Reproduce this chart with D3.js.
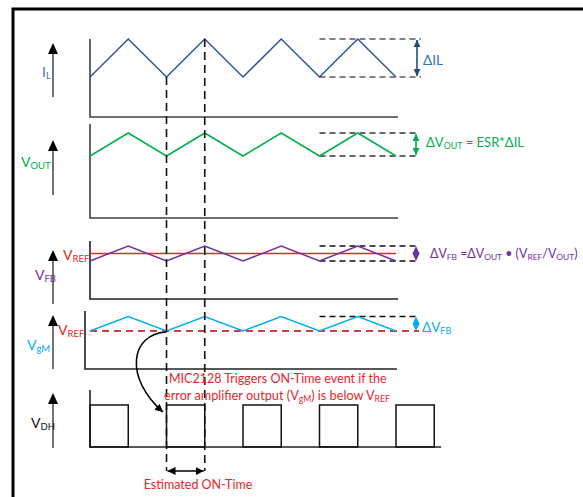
<!DOCTYPE html>
<html><head><meta charset="utf-8">
<script src="https://cdn.jsdelivr.net/npm/d3@7"></script>
<style>html,body{margin:0;padding:0;background:#fff;}svg{display:block;}</style>
</head><body>
<svg id="c" width="583" height="497"></svg>
<script>
// ---- data ----
const timePoints = [0,0.5,1,1.5,2,2.5,3,3.5,4];      // half-cycle instants
const ilLevels   = [0,1,0,1,0,1,0,1,0];                // inductor current (normalized)
const voutLevels = [0,1,0,1,0,1,0,1,0];                // output voltage ripple
const vfbLevels  = [0,1,0,1,0,1,0,1,0];                // feedback voltage ripple
const vgmLevels  = [0,1,0,1,0,1,0,1,0];                // error amp output
const vrefLevel  = [0.5];                              // VREF relative to VFB ripple
const pulseStarts = [0,1,2,3,4];                       // VDH ON pulses
const pulseWidth  = [0.5];
const markerTimes = [1,1.5];                           // dashed vertical guides
const rippleWindow = [3,4.25];                         // dashed ripple reference span

const svg = d3.select("#c");
const FONT = "Lato, 'Open Sans', sans-serif";
const x = d3.scaleLinear().domain([0,4]).range([90,396]);

// panel vertical scales (normalized level -> pixel)
const yIL   = d3.scaleLinear().domain([0,1]).range([77,39]);
const yVOUT = d3.scaleLinear().domain([0,1]).range([156,133]);
const yVFB  = d3.scaleLinear().domain([0,1]).range([261,246]);
const yVGM  = d3.scaleLinear().domain([0,1]).range([331,316.5]);
const yVDH  = d3.scaleLinear().domain([0,1]).range([447,405]);

// frame
svg.append("rect").attr("x",13).attr("y",9).attr("width",620).attr("height",520)
  .attr("fill","none").attr("stroke","#000").attr("stroke-width",3);

// defs: arrowheads
const defs = svg.append("defs");
function marker(id,color,w,h){
  defs.append("marker").attr("id",id).attr("viewBox","0 0 10 10").attr("refX",10).attr("refY",5)
    .attr("markerWidth",w).attr("markerHeight",h).attr("markerUnits","userSpaceOnUse")
    .attr("orient","auto-start-reverse")
    .append("path").attr("d","M0,0L10,5L0,10Z").attr("fill",color);
}
marker("ab","#000",8,8);
marker("ablue","#1f4e79",7,7);
marker("agreen","#00b050",7,7);

// axes (L-shapes)
function axisL(x0,yTop,yBot,xEnd,color){
  svg.append("path").attr("d",`M${x0},${yTop}V${yBot}H${xEnd}`)
    .attr("fill","none").attr("stroke",color||"#404040").attr("stroke-width",1.6);
}
axisL(90,39,117,398);
axisL(90,124,218,398);
axisL(90,241,299,398,"#222");
axisL(85,311,369,397,"#222");
axisL(90,390,447,x(4.59),"#222");

// left quantity arrows
function upArrow(yTip,yBot){
  svg.append("line").attr("x1",53).attr("x2",53).attr("y1",yTip+8).attr("y2",yBot)
    .attr("stroke","#505050").attr("stroke-width",1.6);
  svg.append("path").attr("d",`M${53},${yTip}L${58},${yTip+11}L${48},${yTip+11}Z`).attr("fill","#000");
}
upArrow(43,97); upArrow(140,195); upArrow(250,304); upArrow(315,369); upArrow(393,448);

// dashed ripple references
function refDash(y,color,x1){
  svg.append("line").attr("x1",x(rippleWindow[0])).attr("x2",x1||421).attr("y1",y).attr("y2",y)
    .attr("stroke",color||"#555").attr("stroke-width",1.6).attr("stroke-dasharray","6,4");
}
refDash(yIL(1),"#5a5a5a"); refDash(yIL(0),"#5a5a5a");
refDash(yVOUT(1),"#333",419); refDash(yVOUT(0),"#333",419);
refDash(yVFB(1),"#111",419); refDash(yVFB(0),"#111",419);
refDash(yVGM(1),"#111",419);

// VREF lines
svg.append("line").attr("x1",90).attr("x2",x(4)).attr("y1",yVFB(vrefLevel[0])).attr("y2",yVFB(vrefLevel[0]))
  .attr("stroke","#e3262b").attr("stroke-width",1.6);
svg.append("line").attr("x1",90).attr("x2",419).attr("y1",yVGM(0)).attr("y2",yVGM(0))
  .attr("stroke","#c00000").attr("stroke-width",1.4).attr("stroke-dasharray","7,5");

// waves
const line = (ys) => d3.line().x((d,i)=>x(timePoints[i])).y(d=>ys(d));
function wave(levels,ys,color){
  svg.append("path").datum(levels).attr("d",line(ys)).attr("fill","none")
    .attr("stroke",color).attr("stroke-width",1.5).attr("stroke-linejoin","miter");
}
wave(ilLevels,yIL,"#2f5597");
wave(voutLevels,yVOUT,"#00b050");
wave(vfbLevels,yVFB,"#7030a0");
wave(vgmLevels,yVGM,"#00b0f0");

// VDH pulses
svg.selectAll("rect.p").data(pulseStarts).enter().append("rect").attr("class","p")
  .attr("x",d=>x(d)).attr("width",d=>x(d+pulseWidth[0])-x(d))
  .attr("y",yVDH(1)).attr("height",yVDH(0)-yVDH(1))
  .attr("fill","none").attr("stroke","#111").attr("stroke-width",1.5);

// vertical dashed guides
svg.append("line").attr("x1",x(markerTimes[0])).attr("x2",x(markerTimes[0])).attr("y1",yIL(0)).attr("y2",471)
  .attr("stroke","#111").attr("stroke-width",1.6).attr("stroke-dasharray","8,5");
svg.append("line").attr("x1",x(markerTimes[1])).attr("x2",x(markerTimes[1])).attr("y1",yIL(1)).attr("y2",471)
  .attr("stroke","#111").attr("stroke-width",1.6).attr("stroke-dasharray","8,5");

// ON-time double arrow
svg.append("line").attr("x1",x(markerTimes[0])+1).attr("x2",x(markerTimes[1])-1).attr("y1",471).attr("y2",471)
  .attr("stroke","#000").attr("stroke-width",1.6).attr("marker-start","url(#ab)").attr("marker-end","url(#ab)");

// ripple arrows
svg.append("line").attr("x1",417).attr("x2",417).attr("y1",yIL(1)+1).attr("y2",yIL(0)-1)
  .attr("stroke","#1f4e79").attr("stroke-width",1.6).attr("marker-start","url(#ablue)").attr("marker-end","url(#ablue)");
svg.append("line").attr("x1",416).attr("x2",416).attr("y1",yVOUT(1)+1).attr("y2",yVOUT(0)-1)
  .attr("stroke","#00b050").attr("stroke-width",1.6).attr("marker-start","url(#agreen)").attr("marker-end","url(#agreen)");
function diamond(cx,y1,y2,color){
  const m=(y1+y2)/2;
  svg.append("path").attr("d",`M${cx},${y1}L${cx+3.5},${m}L${cx},${y2}L${cx-3.5},${m}Z`).attr("fill",color);
}
diamond(416,yVFB(1),yVFB(0),"#7030a0");
diamond(416,yVGM(1),yVGM(0),"#00b0f0");

// curved trigger arrow
svg.append("path").attr("d",`M${x(1)},${yVGM(0)+1}C130,334 124,378 163,412`)
  .attr("fill","none").attr("stroke","#000").attr("stroke-width",1.5).attr("marker-end","url(#ab)");

// text helper: parts = [[text, isSub]]
function label(xp,yp,parts,color,size,anchor){
  const t=svg.append("text").attr("x",xp).attr("y",yp).attr("fill",color)
    .attr("font-family",FONT).attr("font-size",size).attr("text-anchor",anchor||"start");
  let sub=false;
  parts.forEach(([s,isSub])=>{
    const ts=t.append("tspan").text(s);
    if(isSub){ ts.attr("font-size",size*0.68); if(!sub) ts.attr("dy",2); }
    else if(sub){ ts.attr("dy",-2); }
    sub=!!isSub;
  });
  return t;
}
label(42,77,[["I"],["L",1]],"#4a72b0",14);
label(21,167,[["V"],["OUT",1]],"#00b050",14);
label(63,260,[["V"],["REF",1]],"#e3262b",14);
label(35,280,[["V"],["FB",1]],"#7030a0",14);
label(58,335,[["V"],["REF",1]],"#e3262b",14);
label(27,350,[["V"],["gM",1]],"#00b0f0",14);
label(31,428,[["V"],["DH",1]],"#111",14);

label(423,65,[["ΔIL"]],"#2e75b6",13.5);
label(426,147,[["ΔV"],["OUT",1],[" = ESR*ΔIL"]],"#00b050",13);
label(430,258,[["ΔV"],["FB",1],[" =ΔV"],["OUT",1],[" • (V"],["REF",1],["/V"],["OUT",1],[")"]],"#7030a0",12.4);
label(422,332,[["ΔV"],["FB",1]],"#00b0f0",13.5);

label(169,383,[["MIC2128 Triggers ON-Time event if the"]],"#e3262b",12.5);
label(164,400,[["error amplifier output (V"],["gM",1],[") is below V"],["REF",1]],"#e3262b",12.7);
label(198,489,[["Estimated ON-Time"]],"#e3262b",12.5,"middle");
</script>
</body></html>
